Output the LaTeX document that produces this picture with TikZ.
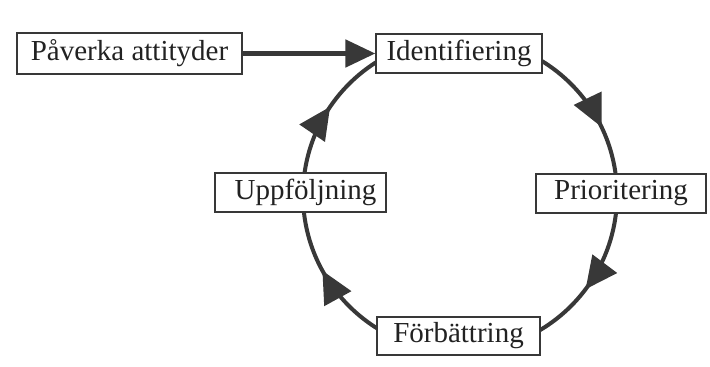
\documentclass[tikz,border=0pt]{standalone}
\usepackage{fontspec}
\setmainfont{Liberation Serif}
\usetikzlibrary{arrows.meta,decorations.markings}
\definecolor{ink}{HTML}{383838}
\definecolor{txt}{HTML}{222222}
\tikzset{
  boxnode/.style={draw=ink, line width=1.3pt, fill=white, text=txt, inner sep=0pt,
    font=\fontsize{29}{31}\selectfont},
  cyclearc/.style={draw=ink, line width=4pt},
  bigtip/.tip={Triangle[length=32pt,width=30pt]},
  markat/.style={postaction={decorate, decoration={markings,
    mark=at position #1 with {\arrow[ink]{bigtip}}}}}
}
\begin{document}
\begin{tikzpicture}[x=1pt,y=1pt]
\useasboundingbox[fill=white] (0,0) rectangle (710,367);
\coordinate (c) at (460,172);
% cycle arcs
\draw[cyclearc, markat=0.715] (c) ++(90:157) arc[start angle=90, end angle=0, radius=157] coordinate (pr);
\draw[cyclearc, markat=0.41] (c) ++(0:157) arc[start angle=0, end angle=-90, radius=157] coordinate (fo);
\draw[cyclearc, markat=0.68] (c) ++(270:157) arc[start angle=270, end angle=180, radius=157] coordinate (up);
\draw[cyclearc, markat=0.38] (c) ++(180:157) arc[start angle=180, end angle=90, radius=157] coordinate (id);
% boxes
\node[boxnode, minimum width=225pt, minimum height=41pt] (pav) at (129.5,313.5) {Påverka attityder};
\node[boxnode, minimum width=166pt, minimum height=39pt] (ident) at (459,313.5) {Identifiering};
\node[boxnode, minimum width=171pt, minimum height=39pt] (uppf) at (300.5,174.5) {\hspace{10pt}Uppföljning};
\node[boxnode, minimum width=170pt, minimum height=39pt] (prio) at (621,173.5) {Prioritering};
\node[boxnode, minimum width=163pt, minimum height=38pt] (forb) at (458.5,31) {Förbättring};
% entry arrow
\draw[ink, line width=5pt, -{Triangle[length=30pt,width=27pt]}] (pav.east) -- (ident.west);
\end{tikzpicture}
\end{document}
